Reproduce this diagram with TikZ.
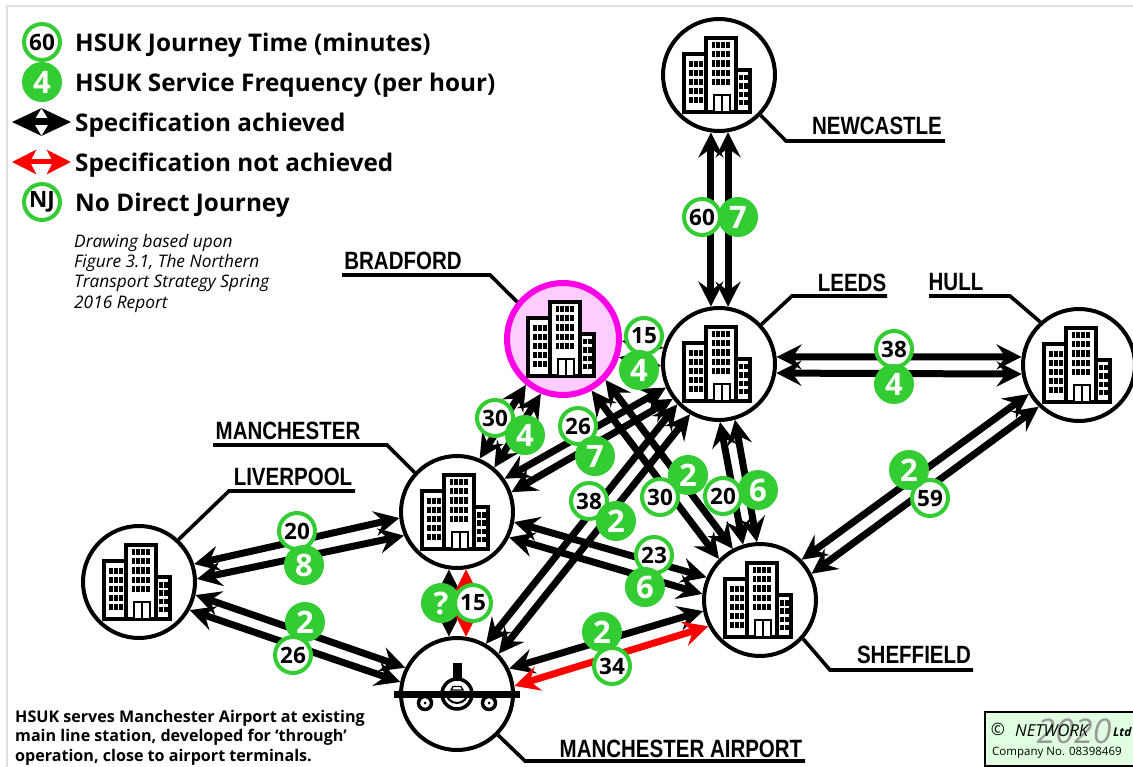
\documentclass[tikz,border=0pt]{standalone}
\usepackage{fontspec}
\setmainfont{Open Sans}
\newfontfamily\placefont[FakeStretch=0.82]{Liberation Sans}
\usetikzlibrary{arrows.meta}
\definecolor{hsgreen}{HTML}{33CC33}
\definecolor{hsred}{HTML}{FF0000}
\definecolor{hsmag}{HTML}{FF00E6}
\definecolor{hspink}{HTML}{FFCCFF}
\definecolor{boxgreen}{HTML}{E0FFE0}
\tikzset{
  x=1pt,y=-1pt,
  station/.style={circle,draw=black,line width=4pt,fill=white,minimum size=112pt,inner sep=0pt},
  hub/.style={circle,draw=hsmag,line width=6pt,fill=hspink,minimum size=112pt,inner sep=0pt},
  jt/.style={circle,draw=hsgreen,line width=4pt,fill=white,minimum size=36pt,inner sep=0pt,text=black,font=\bfseries\fontsize{22.5}{22.5}\selectfont},
  sf/.style={circle,draw=hsgreen,line width=4pt,fill=hsgreen,minimum size=36pt,inner sep=0pt,text=white,font=\bfseries\fontsize{31}{31}\selectfont},
  rail/.style={line width=7pt,draw=black,{Stealth[length=25pt,width=25pt,inset=9pt]}-{Stealth[length=25pt,width=25pt,inset=9pt]}},
  railred/.style={rail,draw=hsred,fill=hsred},
  railleg/.style={line width=7pt,draw=black,{Stealth[length=29pt,width=27pt,inset=8pt]}-{Stealth[length=29pt,width=27pt,inset=8pt]}},
  railredleg/.style={line width=5pt,draw=hsred,{Stealth[length=24pt,width=24pt,inset=6pt]}-{Stealth[length=24pt,width=24pt,inset=6pt]}},
  leader/.style={line width=3.6pt,draw=black,line join=miter},
  place/.style={inner sep=0pt,anchor=center,font=\placefont\bfseries\fontsize{25}{25}\selectfont},
  legendtext/.style={inner sep=0pt,anchor=west,font=\bfseries\fontsize{24.3}{24.3}\selectfont},
  notetext/.style={inner sep=0pt,anchor=north west,align=left,font=\itshape\fontsize{17.3}{20.3}\selectfont},
  airtext/.style={inner sep=0pt,anchor=north west,align=left,font=\bfseries\fontsize{16.1}{19.5}\selectfont},
  building/.pic={
    \draw[line width=3.5pt,fill=white,line join=miter] (-35,-21) rectangle (-13,37);
    \draw[line width=3.5pt,fill=white,line join=miter] (17,-5) rectangle (31,37);
    \draw[line width=4pt,fill=white,line join=miter] (-13,-37) rectangle (17,37);
    \foreach \r in {0,...,4}{
      \foreach \c in {0,...,2}{\fill (-30+\c*5.2,-14+\r*9) rectangle ++(3.8,6.2);}
      \foreach \c in {0,...,3}{\fill (-7.5+\c*4.8,-33+\r*9.2) rectangle ++(3.8,6.2);}
    }
    \foreach \r in {0,...,3}{\foreach \c in {0,1}{\fill (20+\c*5.2,0+\r*8.3) rectangle ++(3.8,5.5);}}
    \draw[line width=1.6pt,fill=white] (-5,20) rectangle (11,37);
    \draw[line width=1.6pt] (3,20) -- (3,37);
  },
  plane/.pic={
    \fill (-4,-31) rectangle (5,-14);
    \draw[line width=3.5pt,fill=white] (0,0) circle (15);
    \draw[line width=2pt] (-11,-2) arc[start angle=180,end angle=0,radius=11];
    \draw[line width=1.3pt,fill=white] (-6,-4) -- (-4,-7.5) -- (4,-7.5) -- (6,-4) -- cycle;
    \fill (-63,-3.5) rectangle (63,3.5);
    \draw[line width=3.5pt,fill=white] (-32,9) circle (6.5);
    \draw[line width=3.5pt,fill=white] (32,9) circle (6.5);
    \fill (-32,9) circle (1.5);
    \fill (32,9) circle (1.5);
  }
}
\begin{document}
\begin{tikzpicture}
\useasboundingbox (0,0) rectangle (1133,767);
\fill[white] (0,0) rectangle (1133,767);
% frame
\coordinate (fa) at (7,767); \coordinate (fb) at (7,6); \coordinate (fc) at (1133,6);
\draw[line width=2pt,draw=black!12] (fa) -- (fb) -- (fc);

% stations
\node[station] (newcastle) at (719,75) {};
\node[station] (leeds) at (719,364) {};
\node[station] (hull) at (1079,365) {};
\node[hub] (bradford) at (563,339) {};
\node[station] (manchester) at (457,512) {};
\node[station] (liverpool) at (139,582) {};
\node[station] (sheffield) at (760,600) {};
\node[station] (airport) at (457,694) {};
\pic at (719,75) {building};
\pic at (719,364) {building};
\pic at (1079,365) {building};
\pic at (563,339) {building};
\pic at (457,512) {building};
\pic at (139,582) {building};
\pic at (760,600) {building};
\pic at (457,694) {plane};

% leaders and place labels
\coordinate (nc1) at (786,141); \coordinate (nc2) at (945,141);
\draw[leader] (newcastle.-44) -- (nc1) -- (nc2);
\coordinate (le1) at (792,296); \coordinate (le2) at (887,296);
\draw[leader] (leeds.43) -- (le1) -- (le2);
\coordinate (hu1) at (1010,296); \coordinate (hu2) at (929,296);
\draw[leader] (hull.132) -- (hu1) -- (hu2);
\coordinate (br1) at (490,275); \coordinate (br2) at (342,275);
\draw[leader] (bradford.141) -- (br1) -- (br2);
\coordinate (ma1) at (387,445); \coordinate (ma2) at (213,445);
\draw[leader] (manchester.137) -- (ma1) -- (ma2);
\coordinate (li1) at (229,491); \coordinate (li2) at (355,491);
\draw[leader] (liverpool.47) -- (li1) -- (li2);
\coordinate (sh1) at (830,670); \coordinate (sh2) at (973,670);
\draw[leader] (sheffield.-42) -- (sh1) -- (sh2);
\coordinate (ai1) at (525,761); \coordinate (ai2) at (805,761);
\draw[leader] (airport.-45) -- (ai1) -- (ai2);

\node[place] (tnew) at (877,126) {NEWCASTLE};
\node[place] (tbra) at (403,261) {BRADFORD};
\node[place] (tlee) at (852,283) {LEEDS};
\node[place] (thul) at (956,282) {HULL};
\node[place] (tman) at (288,431) {MANCHESTER};
\node[place] (tliv) at (293,477) {LIVERPOOL};
\node[place] (tshe) at (914,655) {SHEFFIELD};
\node[place] (tair) at (681,749) {MANCHESTER AIRPORT};

% connectors
\draw[rail] (newcastle.-98) -- (leeds.98);
\draw[rail] (newcastle.-81) -- (leeds.81);
\draw[rail] (leeds.7) -- (hull.172);
\draw[rail] (leeds.-9) -- (hull.-171);
\draw[rail] (bradford.-2) -- (leeds.164);
\draw[rail] (bradford.-18) -- (leeds.-178);
\draw[rail] (manchester.67) -- (bradford.-129);
\draw[rail] (manchester.50) -- (bradford.-112);
\draw[rail] (manchester.35) -- (leeds.-156);
\draw[rail] (manchester.20) -- (leeds.-143);
\draw[rail] (airport.60) -- (leeds.-136);
\draw[rail] (airport.44) -- (leeds.-120);
\draw[rail] (bradford.-61) -- (sheffield.135);
\draw[rail] (bradford.-44) -- (sheffield.118);
\draw[rail] (leeds.-89) -- (sheffield.107);
\draw[rail] (leeds.-74) -- (sheffield.93);
\draw[rail] (sheffield.44) -- (hull.-150);
\draw[rail] (sheffield.27) -- (hull.-134);
\draw[rail] (manchester.-10) -- (sheffield.157);
\draw[rail] (manchester.-26) -- (sheffield.174);
\draw[rail] (manchester.-174) -- (liverpool.18);
\draw[rail] (manchester.-156) -- (liverpool.3);
\draw[rail] (liverpool.-13) -- (airport.153);
\draw[rail] (liverpool.-29) -- (airport.168);
\draw[rail] (manchester.-98) -- (airport.98);
\draw[railred] (manchester.-81) -- (airport.81);
\draw[rail] (airport.26) -- (sheffield.-169);
\draw[railred] (airport.8) -- (sheffield.-153);

% badges
\node[jt] (j60) at (702,217) {60};
\node[sf] (f7) at (738,217) {7};
\node[jt] (j15) at (644,336) {15};
\node[sf] (f4a) at (639,370) {4};
\node[jt] (j30a) at (495,418) {30};
\node[sf] (f4b) at (525,435) {4};
\node[jt] (j26) at (578,426) {26};
\node[sf] (f7b) at (595,456) {7};
\node[jt] (j38) at (589,501) {38};
\node[sf] (f2a) at (616,521) {2};
\node[sf] (f2b) at (688,475) {2};
\node[jt] (j30b) at (660,497) {30};
\node[sf] (f6a) at (758,490) {6};
\node[jt] (j20a) at (723,496) {20};
\node[jt] (j38b) at (894,349) {38};
\node[sf] (f4c) at (894,384) {4};
\node[jt] (j59) at (930,498) {59};
\node[sf] (f2c) at (909,470) {2};
\node[jt] (j20b) at (297,531) {20};
\node[sf] (f8) at (304,565) {8};
\node[sf] (f2d) at (305,622) {2};
\node[jt] (j26b) at (293,655) {26};
\node[jt] (j23) at (654,555) {23};
\node[sf] (f6b) at (645,587) {6};
\node[sf] (f2e) at (602,632) {2};
\node[jt] (j34) at (612,666) {34};
\node[sf] (fq) at (441,603) {?};
\node[jt] (j15b) at (473,603) {15};

% legend
\node[jt] (l60) at (42,42) {60};
\node[sf] (l4) at (42,82) {4};
\node[jt] (lnj) at (42,202) {NJ};
\coordinate (la1) at (12,122); \coordinate (la2) at (71,122);
\draw[railleg] (la1) -- (la2);
\coordinate (lb1) at (12,162); \coordinate (lb2) at (71,162);
\draw[railredleg] (lb1) -- (lb2);
\node[legendtext] (t1) at (75,45) {HSUK Journey Time (minutes)};
\node[legendtext] (t2) at (75,85) {HSUK Service Frequency (per hour)};
\node[legendtext] (t3) at (75,125) {Specification achieved};
\node[legendtext] (t4) at (75,165) {Specification not achieved};
\node[legendtext] (t5) at (75,205) {No Direct Journey};
\node[notetext] (note) at (74,234) {Drawing based upon\\Figure 3.1, The Northern\\Transport Strategy Spring\\2016 Report};
\node[airtext] (airnote) at (15,710) {HSUK serves Manchester Airport at existing\\main line station, developed for ‘through’\\operation, close to airport terminals.};

% company box
\draw[line width=2pt,fill=boxgreen] (985,712) rectangle (1140,766);
\node[inner sep=0pt,text=black!40,font=\itshape\fontsize{34}{34}\selectfont] (yr) at (1074,731) {2020};
\node[inner sep=0pt,font=\fontsize{17}{17}\selectfont] (cc) at (998,729) {©};
\node[inner sep=0pt,anchor=west,font=\itshape\fontsize{16.5}{16.5}\selectfont] (cn) at (1015,731) {NETWORK};
\node[inner sep=0pt,anchor=west,font=\bfseries\itshape\fontsize{12}{12}\selectfont] (cl) at (1113,732) {Ltd};
\node[inner sep=0pt,anchor=west,font=\fontsize{11.5}{11.5}\selectfont] (cr) at (992,753) {Company No. 08398469};
\end{tikzpicture}
\end{document}
